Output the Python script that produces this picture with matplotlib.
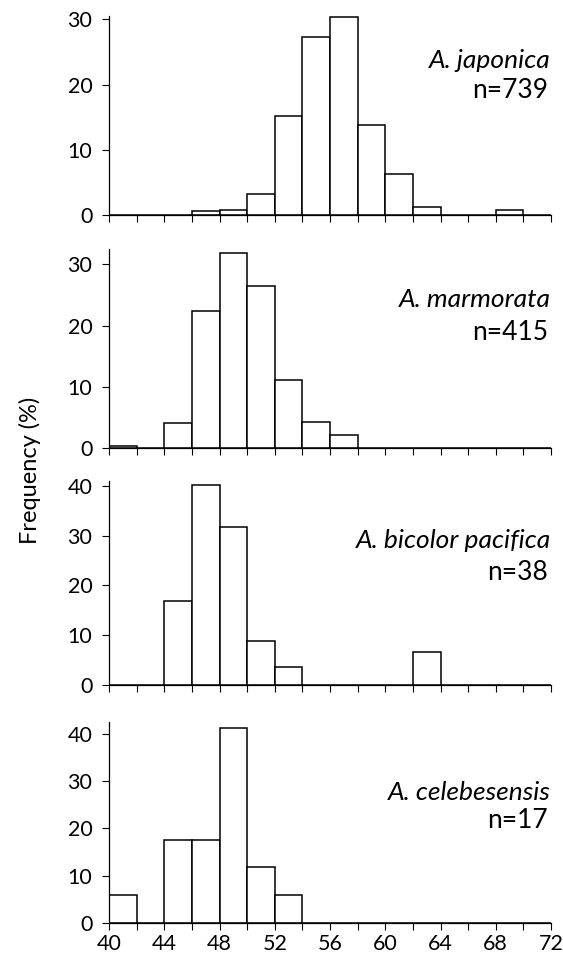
import numpy as np
import matplotlib
matplotlib.use('Agg')
import matplotlib.pyplot as plt

plt.rcParams.update({
    'font.family': ['Lato', 'DejaVu Sans'],
    'font.size': 15,
    'xtick.labelsize': 15.5,
    'ytick.labelsize': 15.5,
    'axes.linewidth': 0.9,
})

# bin left edges, width 2, from 40 to 70
bin_edges = np.arange(40, 72, 2)

species = ['A. japonica', 'A. marmorata', 'A. bicolor pacifica', 'A. celebesensis']
n_labels = ['n=739', 'n=415', 'n=38', 'n=17']

# frequency (%) per bin 40-42, 42-44, ..., 70-72
freq_japonica = [0, 0, 0, 0.6, 0.8, 3.2, 15.2, 27.3, 30.4, 13.8, 6.3, 1.3, 0, 0, 0.7, 0]
freq_marmorata = [0.4, 0, 4.1, 22.3, 31.9, 26.4, 11.1, 4.2, 2.1, 0, 0, 0, 0, 0, 0, 0]
freq_bicolor = [0, 0, 16.8, 40.2, 31.8, 8.8, 3.7, 0, 0, 0, 0, 6.6, 0, 0, 0, 0]
freq_celebesensis = [5.9, 0, 17.6, 17.6, 41.2, 11.8, 5.9, 0, 0, 0, 0, 0, 0, 0, 0, 0]
all_freq = [freq_japonica, freq_marmorata, freq_bicolor, freq_celebesensis]

y_max = [30.5, 32.5, 41, 42.5]
y_ticks = [[0, 10, 20, 30], [0, 10, 20, 30], [0, 10, 20, 30, 40], [0, 10, 20, 30, 40]]

W, H = 563, 958
fig = plt.figure(figsize=(W / 100, H / 100), dpi=100)

# pixel rows of the zero line and top of each panel
zero_px = [215, 448, 685, 923]
top_px = [16, 249, 481, 722]
left_px, right_px = 109, 551

# label y positions (pixels)
name_px = [60, 300, 541, 792]
n_px = [90, 332, 573, 821]

for i in range(4):
    ax = fig.add_axes([left_px / W, 1 - zero_px[i] / H,
                       (right_px - left_px) / W, (zero_px[i] - top_px[i]) / H])
    ax.bar(bin_edges, all_freq[i], width=2, align='edge',
           facecolor='white', edgecolor='black', linewidth=1.1)
    ax.set_xlim(40, 72)
    ax.set_ylim(0, y_max[i])
    ax.set_xticks(np.arange(40, 73, 2))
    ax.set_yticks(y_ticks[i])
    ax.spines['top'].set_visible(False)
    ax.spines['right'].set_visible(False)
    ax.tick_params(axis='both', length=5, width=0.8)
    ax.tick_params(axis='y', pad=7)
    if i < 3:
        ax.set_xticklabels([])
    else:
        labels = [str(v) if (v - 40) % 4 == 0 else '' for v in range(40, 73, 2)]
        ax.set_xticklabels(labels)
        ax.tick_params(axis='x', pad=3)

    # species name and sample size, right aligned
    fig.text(right_px / W, 1 - name_px[i] / H, species[i], style='italic',
             ha='right', va='center', fontsize=19)
    fig.text((right_px - 3) / W, 1 - n_px[i] / H, n_labels[i],
             ha='right', va='center', fontsize=19)

fig.text(30 / W, 1 - 470 / H, 'Frequency (%)', rotation=90,
         ha='center', va='center', fontsize=17)

fig.savefig('out.png', dpi=100)
